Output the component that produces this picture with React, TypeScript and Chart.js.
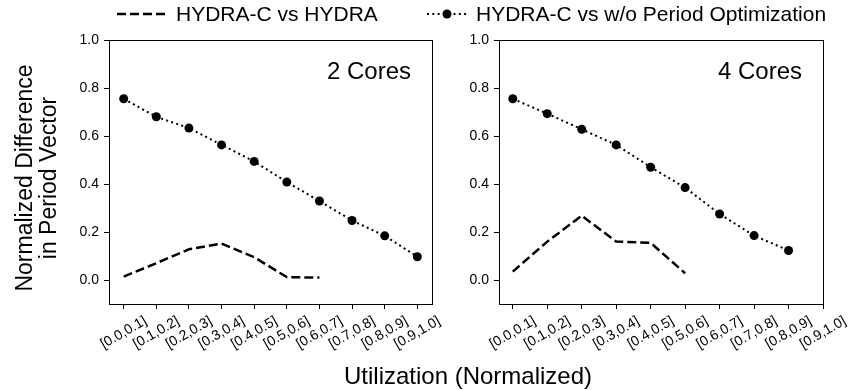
import React, { useEffect, useRef } from "react";
import { Chart, registerables } from "chart.js";

Chart.register(...registerables);

const FONT = "'Liberation Sans', Arial, Helvetica, sans-serif";

// Utilization bins on the x axis
const utilizationBins = [
  "[0.0,0.1]", "[0.1,0.2]", "[0.2,0.3]", "[0.3,0.4]", "[0.4,0.5]",
  "[0.5,0.6]", "[0.6,0.7]", "[0.7,0.8]", "[0.8,0.9]", "[0.9,1.0]",
];

const yTickValues = [0, 0.2, 0.4, 0.6, 0.8, 1.0];

const seriesVsHydra = "HYDRA-C vs HYDRA";
const seriesVsNoPeriodOpt = "HYDRA-C vs w/o Period Optimization";

const xAxisTitle = "Utilization (Normalized)";
const yAxisTitleLines = ["Normalized Difference", "in Period Vector"];

// 2 cores
const twoCoresTitle = "2 Cores";
const twoCoresVsHydra = [0.014, 0.07, 0.128, 0.152, 0.095, 0.012, 0.01];
const twoCoresVsNoPeriodOpt = [0.755, 0.68, 0.633, 0.563, 0.494, 0.408, 0.329, 0.248, 0.184, 0.097];

// 4 cores
const fourCoresTitle = "4 Cores";
const fourCoresVsHydra = [0.035, 0.16, 0.268, 0.16, 0.155, 0.028];
const fourCoresVsNoPeriodOpt = [0.755, 0.693, 0.628, 0.563, 0.47, 0.385, 0.275, 0.185, 0.123];

const W = 854;
const H = 390;

const DASHED = [9, 4];
const DOTTED = [2, 3.3];
const TICK_FONT = 14;

type PanelSpec = {
  title: string;
  vsHydra: number[];
  vsNoOpt: number[];
  xMin: number;
  xMax: number;
  areaLeft: number;
  areaRight: number;
  shared: boolean;
};

const AREA_TOP = 40;
const AREA_BOTTOM = 304;
const Y_AXIS_W = 40;
const X_AXIS_H = 60;

const toPoints = (vals: number[]) => vals.map((y, x) => ({ x, y }));

function drawSharedText(ctx: CanvasRenderingContext2D) {
  ctx.save();
  ctx.fillStyle = "#000";
  ctx.strokeStyle = "#000";

  // legend
  const ly = 14;
  ctx.font = `21px ${FONT}`;
  ctx.textBaseline = "middle";
  ctx.textAlign = "left";

  ctx.lineWidth = 2.5;
  ctx.setLineDash(DASHED);
  ctx.beginPath();
  ctx.moveTo(117, ly);
  ctx.lineTo(167, ly);
  ctx.stroke();
  ctx.fillText(seriesVsHydra, 176, ly + 1);

  ctx.lineWidth = 2;
  ctx.setLineDash(DOTTED);
  ctx.beginPath();
  ctx.moveTo(427, ly);
  ctx.lineTo(467, ly);
  ctx.stroke();
  ctx.setLineDash([]);
  ctx.beginPath();
  ctx.arc(447, ly, 4.5, 0, Math.PI * 2);
  ctx.fill();
  ctx.fillText(seriesVsNoPeriodOpt, 476, ly + 1);

  // x axis title
  ctx.font = `24px ${FONT}`;
  ctx.textAlign = "center";
  ctx.textBaseline = "alphabetic";
  ctx.fillText(xAxisTitle, 468, 384);

  // y axis title (two lines)
  ctx.font = `23px ${FONT}`;
  const cy = 178;
  const baselines = [32, 56];
  yAxisTitleLines.forEach((line, i) => {
    ctx.save();
    ctx.translate(baselines[i], cy);
    ctx.rotate(-Math.PI / 2);
    ctx.fillText(line, 0, 0);
    ctx.restore();
  });
  ctx.restore();
}

function makePanel(canvas: HTMLCanvasElement, spec: PanelSpec) {
  const framePlugin = {
    id: "panelFrame",
    afterDraw(chart: Chart) {
      const ctx = chart.ctx;
      const { left, right, top, bottom } = chart.chartArea;
      ctx.save();
      ctx.strokeStyle = "#000";
      ctx.lineWidth = 1;
      ctx.setLineDash([]);
      ctx.strokeRect(Math.round(left) + 0.5, Math.round(top) + 0.5, Math.round(right - left), Math.round(bottom - top));

      // panel title
      ctx.fillStyle = "#000";
      ctx.font = `24px ${FONT}`;
      ctx.textAlign = "right";
      ctx.textBaseline = "alphabetic";
      ctx.fillText(spec.title, right - 21, 79);

      // rotated x tick labels, centred under each tick
      const xs = chart.scales.x;
      ctx.font = `${TICK_FONT}px ${FONT}`;
      ctx.textAlign = "center";
      ctx.textBaseline = "middle";
      const a = Math.PI / 6;
      utilizationBins.forEach((lab, i) => {
        const px = xs.getPixelForValue(i);
        const w = ctx.measureText(lab).width;
        const boxH = w * Math.sin(a) + TICK_FONT * Math.cos(a);
        const cyl = bottom + 10 + boxH / 2;
        ctx.save();
        ctx.translate(px, cyl);
        ctx.rotate(-a);
        ctx.fillText(lab, 0, 0);
        ctx.restore();
      });
      ctx.restore();

      if (spec.shared) drawSharedText(ctx);
    },
  };

  return new Chart(canvas, {
    type: "line",
    data: {
      datasets: [
        {
          label: seriesVsHydra,
          data: toPoints(spec.vsHydra),
          borderColor: "#000",
          borderWidth: 2.5,
          borderDash: DASHED,
          borderCapStyle: "butt",
          pointRadius: 0,
          fill: false,
          tension: 0,
        },
        {
          label: seriesVsNoPeriodOpt,
          data: toPoints(spec.vsNoOpt),
          borderColor: "#000",
          borderWidth: 2,
          borderDash: DOTTED,
          borderCapStyle: "butt",
          pointRadius: 4.5,
          pointBackgroundColor: "#000",
          pointBorderWidth: 0,
          fill: false,
          tension: 0,
        },
      ],
    },
    options: {
      responsive: false,
      animation: false,
      devicePixelRatio: 1,
      layout: {
        padding: {
          left: spec.areaLeft - Y_AXIS_W,
          right: W - spec.areaRight,
          top: AREA_TOP,
          bottom: H - AREA_BOTTOM - X_AXIS_H,
        },
      },
      plugins: {
        legend: { display: false },
        tooltip: { enabled: false },
      },
      scales: {
        x: {
          type: "linear",
          min: spec.xMin,
          max: spec.xMax,
          afterBuildTicks: (axis: any) => {
            axis.ticks = utilizationBins.map((_, i) => ({ value: i }));
          },
          afterFit: (axis: any) => {
            axis.height = X_AXIS_H;
          },
          ticks: { display: false },
          grid: {
            drawOnChartArea: false,
            drawTicks: true,
            tickLength: 5,
            tickColor: "#000",
            tickWidth: 1,
          },
          border: { display: true, color: "#000", width: 1 },
        },
        y: {
          type: "linear",
          min: -0.1,
          max: 1.0,
          afterBuildTicks: (axis: any) => {
            axis.ticks = yTickValues.map((value) => ({ value }));
          },
          afterFit: (axis: any) => {
            axis.width = Y_AXIS_W;
          },
          ticks: {
            color: "#000",
            font: { family: FONT, size: TICK_FONT },
            padding: 5,
            callback: (v: any) => Number(v).toFixed(1),
          },
          grid: {
            drawOnChartArea: false,
            drawTicks: true,
            tickLength: 5,
            tickColor: "#000",
            tickWidth: 1,
          },
          border: { display: true, color: "#000", width: 1 },
        },
      },
    },
    plugins: [framePlugin],
  } as any);
}

export default function App() {
  const leftRef = useRef<HTMLCanvasElement>(null);
  const rightRef = useRef<HTMLCanvasElement>(null);

  useEffect(() => {
    if (!leftRef.current || !rightRef.current) return;
    const left = makePanel(leftRef.current, {
      title: twoCoresTitle,
      vsHydra: twoCoresVsHydra,
      vsNoOpt: twoCoresVsNoPeriodOpt,
      xMin: -0.45,
      xMax: 9.45,
      areaLeft: 109,
      areaRight: 432,
      shared: true,
    });
    const right = makePanel(rightRef.current, {
      title: fourCoresTitle,
      vsHydra: fourCoresVsHydra,
      vsNoOpt: fourCoresVsNoPeriodOpt,
      xMin: -0.4,
      xMax: 9.0,
      areaLeft: 499,
      areaRight: 823,
      shared: false,
    });
    return () => {
      left.destroy();
      right.destroy();
    };
  }, []);

  const canvasStyle: React.CSSProperties = { position: "absolute", left: 0, top: 0 };

  return (
    <div style={{ position: "absolute", left: 0, top: 0, width: W, height: H, background: "#fff" }}>
      <canvas ref={leftRef} width={W} height={H} style={canvasStyle} />
      <canvas ref={rightRef} width={W} height={H} style={canvasStyle} />
    </div>
  );
}
